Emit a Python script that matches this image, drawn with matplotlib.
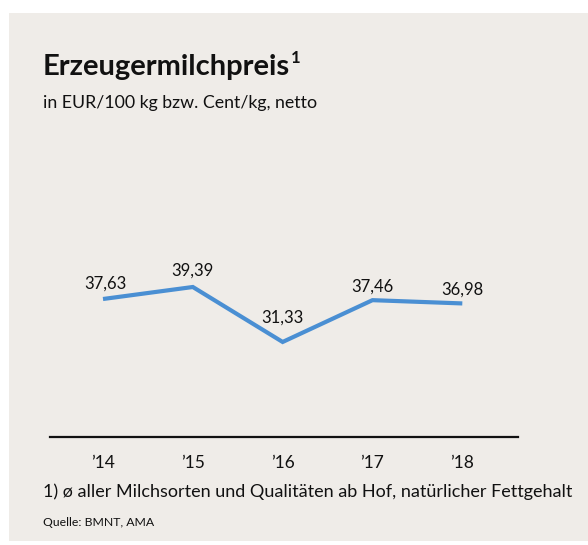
import matplotlib
matplotlib.use("Agg")
import matplotlib.pyplot as plt
from matplotlib.patches import Rectangle

years = [2014, 2015, 2016, 2017, 2018]
tick_labels = ["’14", "’15", "’16", "’17", "’18"]
prices = [37.63, 39.39, 31.33, 37.46, 36.98]
value_labels = ["37,63", "39,39", "31,33", "37,46", "36,98"]

title = "Erzeugermilchpreis"
subtitle = "in EUR/100 kg bzw. Cent/kg, netto"
footnote = "1) ø aller Milchsorten und Qualitäten ab Hof, natürlicher Fettgehalt"
source = "Quelle: BMNT, AMA"

W, H = 588, 545
bg = "#EFECE8"
line_color = "#4A8FD3"
txt = "#111111"
font = ["Lato", "DejaVu Sans"]
plt.rcParams["font.family"] = font

fig = plt.figure(figsize=(W / 100, H / 100), dpi=100)
fig.patch.set_facecolor("white")
fig.add_artist(Rectangle((9 / W, 1 - 541 / H), (W - 9) / W, (541 - 13) / H,
                         transform=fig.transFigure, facecolor=bg, edgecolor="none", zorder=0))

ax_left, ax_right, ax_top, ax_bottom = 50, 518, 200, 437
ax = fig.add_axes([ax_left / W, 1 - ax_bottom / H, (ax_right - ax_left) / W, (ax_bottom - ax_top) / H])
ax.set_facecolor("none")
ax.plot(years, prices, color=line_color, lw=3, solid_capstyle="butt", solid_joinstyle="miter")
ax.set_xlim(2013.41, 2018.62)
ppu = 6.82
ymax = 39.39 + (287 - ax_top) / ppu
ymin = 39.39 - (ax_bottom - 287) / ppu
ax.set_ylim(ymin, ymax)

# label offsets in points (dx, dy) above each point
offsets = [(1.5, 7.2), (0, 8.0), (0, 13.7), (0, 5.8), (0, 6.5)]
for x, y, lab, (dx, dy) in zip(years, prices, value_labels, offsets):
    ax.annotate(lab, (x, y), xytext=(dx, dy), textcoords="offset points",
                ha="center", va="baseline", fontsize=12, color=txt)

for s in ["top", "right", "left"]:
    ax.spines[s].set_visible(False)
ax.spines["bottom"].set_linewidth(1.6)
ax.spines["bottom"].set_color(txt)
ax.set_yticks([])
ax.set_xticks(years)
ax.set_xticklabels(tick_labels, fontsize=12.5, color=txt)
ax.tick_params(axis="x", length=0, pad=13)

t = fig.text(43 / W, 1 - 67 / H, title, fontsize=21, fontweight="bold", va="center", ha="left", color=txt)
fig.canvas.draw()
bb = t.get_window_extent(renderer=fig.canvas.get_renderer())
fig.text((bb.x1 + 1) / W, 1 - 58 / H, "1", fontsize=12, fontweight="bold", va="center", ha="left", color=txt)
fig.text(43 / W, 1 - 103 / H, subtitle, fontsize=12.8, va="center", ha="left", color=txt)
fig.text(43 / W, 1 - 492 / H, footnote, fontsize=13, va="center", ha="left", color=txt)
fig.text(43 / W, 1 - 522 / H, source, fontsize=8.8, va="center", ha="left", color=txt)

fig.savefig("out.png", dpi=100, facecolor=fig.get_facecolor())
